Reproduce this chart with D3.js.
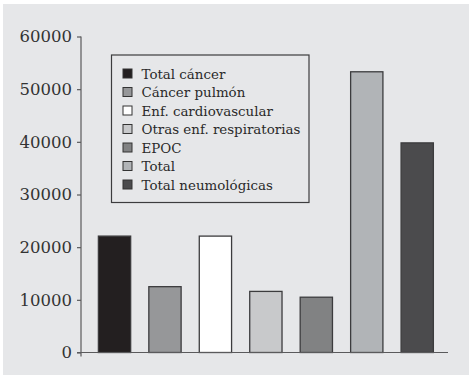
<!DOCTYPE html>
<html>
<head>
<meta charset="utf-8">
<script src="https://cdn.jsdelivr.net/npm/d3@7"></script>
<style>
  html, body { margin: 0; padding: 0; background: #ffffff; }
  svg { display: block; }
</style>
</head>
<body>
<script>
// Mortality by cause: categories, values and fills
const categories = ["Total cáncer", "Cáncer pulmón", "Enf. cardiovascular", "Otras enf. respiratorias", "EPOC", "Total", "Total neumológicas"];
const values = [22100, 12500, 22100, 11600, 10500, 53300, 39800];
const fills = ["#231f20", "#969799", "#ffffff", "#c8c9cb", "#818283", "#b1b4b7", "#4b4b4d"];
const yTicks = [0, 10000, 20000, 30000, 40000, 50000, 60000];

const W = 469, H = 375;
const svg = d3.select("body").append("svg").attr("width", W).attr("height", H);

// panel background
svg.append("rect").attr("x", 3).attr("y", 4).attr("width", W - 3).attr("height", H - 4).attr("fill", "#e6e7e9");

const plot = { left: 81, right: 448, top: 36.5, bottom: 352.5 };

const y = d3.scaleLinear().domain([0, 60000]).range([plot.bottom, plot.top]);
const x = d3.scaleBand().domain(categories).range([plot.left + 8.3, plot.left + 8.3 + 50.45 * 7]).paddingInner(0.36).paddingOuter(0.18);

// bars
svg.append("g").selectAll("rect").data(categories).join("rect")
  .attr("x", d => x(d))
  .attr("y", (d, i) => y(values[i]))
  .attr("width", x.bandwidth())
  .attr("height", (d, i) => y(0) - y(values[i]))
  .attr("fill", (d, i) => fills[i])
  .attr("stroke", "#3c3c3e")
  .attr("stroke-width", 1.3);

// y axis
const yAxis = d3.axisLeft(y).tickValues(yTicks).tickSize(4).tickPadding(5).tickFormat(d3.format("d"));
const gy = svg.append("g").attr("transform", `translate(${plot.left},0)`).call(yAxis);
gy.select(".domain").attr("d", `M0,${plot.top}V${plot.bottom + 4}`).attr("stroke", "#5a5a5c").attr("stroke-width", 1.2);
gy.selectAll(".tick line").attr("stroke", "#5a5a5c").attr("stroke-width", 1.2);
gy.selectAll(".tick text").attr("font-family", "DejaVu Serif").attr("font-size", 16.5).attr("fill", "#333");

// x baseline
svg.append("line").attr("x1", plot.left - 4).attr("x2", plot.right)
  .attr("y1", plot.bottom).attr("y2", plot.bottom)
  .attr("stroke", "#5a5a5c").attr("stroke-width", 1.2);

// legend
const lg = svg.append("g");
lg.append("rect").attr("x", 111.5).attr("y", 55).attr("width", 197.5).attr("height", 147.5)
  .attr("fill", "#e6e7e9").attr("stroke", "#3c3c3e").attr("stroke-width", 1.2);
const items = lg.selectAll("g.item").data(categories).join("g")
  .attr("class", "item")
  .attr("transform", (d, i) => `translate(123,${73.5 + i * 18.5})`);
items.append("rect").attr("x", 0).attr("y", -4.5).attr("width", 9).attr("height", 9)
  .attr("fill", (d, i) => fills[i]).attr("stroke", "#333").attr("stroke-width", 1);
items.append("text").attr("x", 18.5).attr("y", 5)
  .attr("font-family", "DejaVu Serif").attr("font-size", 13.4).attr("fill", "#2a2a2a")
  .text(d => d);
</script>
</body>
</html>
